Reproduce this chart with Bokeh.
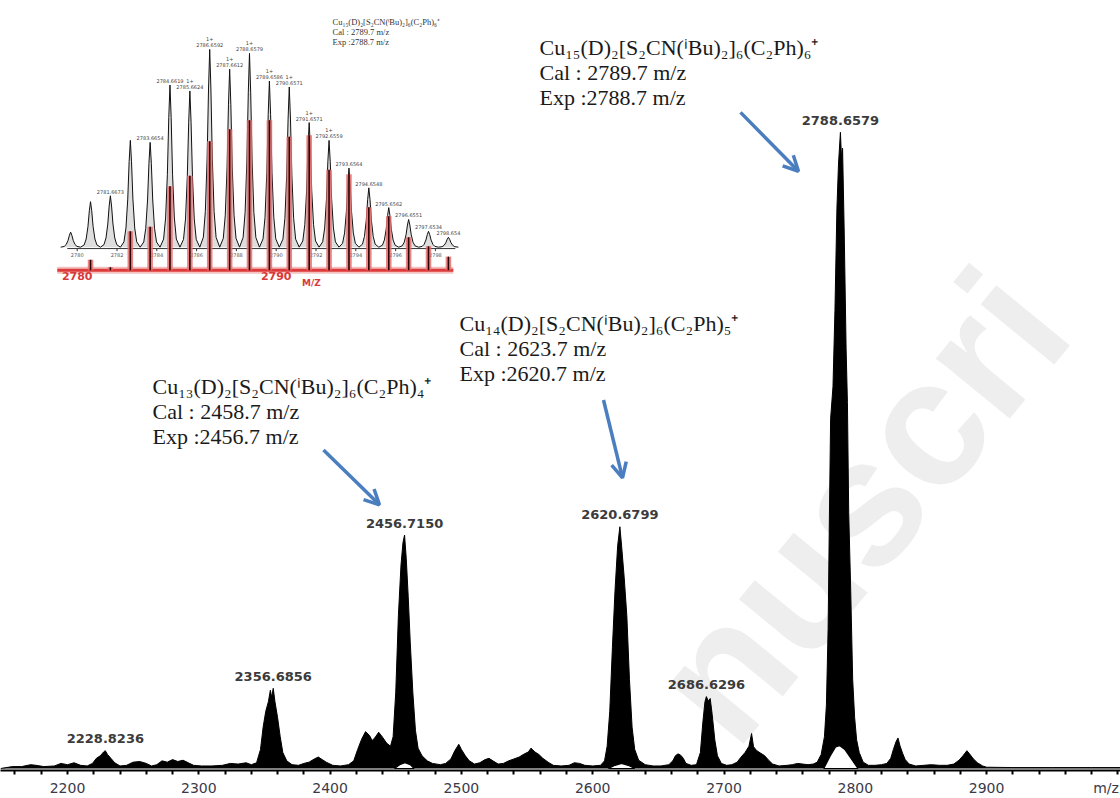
import math
from bokeh.plotting import figure
from bokeh.models import Range1d, FixedTicker, Arrow, OpenHead, Label
from bokeh.core.properties import value
from bokeh.embed import file_html
from bokeh.resources import INLINE

# ---------------- main spectrum (m/z, relative intensity %) ----------------
mz = [2149, 2158, 2165, 2172, 2176, 2182, 2190, 2195, 2200, 2205, 2210, 2215, 2219, 2222, 2225,
      2227.5, 2228.8, 2230.5, 2233, 2236, 2240, 2245, 2250, 2255, 2260, 2264, 2268, 2272,
      2276, 2280, 2284, 2288, 2292, 2296, 2302, 2310, 2318, 2324, 2330, 2336, 2340, 2344,
      2347, 2349, 2351, 2353, 2354.5, 2355.5, 2356.7, 2358, 2360, 2362, 2364, 2367, 2371,
      2376, 2380, 2384, 2388, 2391, 2394, 2397, 2402, 2408, 2414, 2418, 2421, 2424, 2427,
      2430, 2432, 2434, 2437, 2440, 2443, 2446, 2448, 2450, 2452, 2454, 2455.5, 2456.7,
      2458, 2459.5, 2461, 2463, 2465, 2467, 2470, 2474, 2478, 2484, 2488, 2492, 2495, 2498,
      2500, 2503, 2506, 2510, 2514, 2518, 2521, 2524, 2528, 2532, 2536, 2540, 2544, 2548,
      2551, 2553, 2556, 2559, 2562, 2566, 2570, 2576, 2582, 2586, 2590, 2594, 2600, 2606,
      2609, 2611, 2613, 2615, 2617, 2619, 2620.7, 2622, 2624, 2626, 2628, 2630, 2632, 2635,
      2640, 2646, 2652, 2658, 2661, 2663, 2665, 2667, 2669, 2671, 2675, 2679, 2682, 2684,
      2685.5, 2686.6, 2688, 2689.5, 2691, 2693, 2695, 2698, 2702, 2706, 2710, 2713, 2716,
      2719, 2721, 2722.5, 2725, 2728, 2731, 2734, 2737, 2742, 2748, 2752, 2756, 2760, 2764,
      2768, 2771, 2774, 2776.5, 2778, 2779.3, 2780.3, 2781.2, 2783, 2784.5, 2786, 2787.2,
      2788.66, 2789.5, 2790.3, 2791.5, 2793, 2794, 2795, 2796.5, 2798, 2799.5, 2801, 2803,
      2806, 2810, 2815, 2820, 2824, 2827, 2829, 2831, 2832.5, 2834, 2836, 2838, 2841, 2846,
      2852, 2858, 2864, 2870, 2875, 2879, 2882, 2885, 2887, 2890, 2893, 2897, 2900, 2920,
      2950, 2980, 3002]
intensity = [0.0, 0.3, 0.3, 0.6, 0.5, 0.3, 0.4, 0.8, 0.6, 0.9, 0.5, 0.4, 0.8, 1.6, 2.0,
             2.6, 2.8, 2.2, 1.6, 0.9, 0.4, 0.5, 1.0, 1.1, 0.8, 0.4, 0.6, 1.2,
             1.0, 1.4, 1.1, 1.3, 0.9, 0.5, 0.4, 0.4, 0.5, 0.8, 0.7, 0.9, 0.6, 0.9,
             3.0, 6.5, 9.0, 10.5, 12.3, 11.2, 12.6, 10.5, 8.0, 5.0, 2.5, 1.2, 0.6,
             0.5, 0.8, 1.0, 1.5, 1.8, 1.4, 1.0, 0.5, 0.4, 0.6, 1.2, 3.0, 4.6, 5.8,
             5.2, 4.4, 4.8, 5.7, 4.9, 4.0, 3.5, 5.0, 12.0, 24.0, 32.0, 35.5, 36.7,
             33.0, 27.0, 20.0, 12.0, 6.0, 3.2, 2.0, 1.2, 0.8, 0.6, 0.8, 1.5, 2.8, 3.8,
             3.0, 2.0, 1.2, 0.7, 0.9, 1.4, 1.6, 1.2, 0.7, 0.8, 1.2, 1.5, 1.8, 2.3,
             2.6, 3.2, 2.6, 2.2, 1.6, 1.0, 0.5, 0.4, 0.5, 0.9, 0.8, 0.5, 0.4, 0.5,
             1.2, 3.5, 9.0, 19.0, 28.0, 35.0, 38.0, 35.0, 30.0, 24.0, 14.0, 6.5, 3.0, 1.3,
             0.6, 0.4, 0.4, 0.6, 1.2, 2.0, 2.3, 2.1, 1.6, 0.8, 0.5, 0.6, 2.5, 7.5,
             10.5, 11.3, 10.6, 11.0, 8.5, 4.5, 2.0, 0.8, 0.5, 0.6, 1.0, 1.8, 2.5,
             3.5, 5.5, 3.4, 2.8, 2.4, 2.0, 1.3, 0.7, 0.4, 0.5, 0.6, 0.8, 0.7, 0.6,
             0.7, 1.0, 2.2, 5.0, 10.0, 22.0, 40.0, 55.0, 60.0, 72.0, 88.0, 95.0,
             100.0, 96.0, 97.5, 85.0, 66.0, 57.5, 40.0, 28.0, 14.0, 8.0, 4.5, 2.5,
             1.0, 0.5, 0.5, 0.6, 0.8, 1.6, 3.0, 4.2, 4.8, 3.6, 2.4, 1.4, 0.7, 0.4,
             0.5, 0.6, 0.5, 0.5, 0.7, 1.3, 2.0, 2.8, 2.3, 1.5, 0.9, 0.4, 0.2, 0.15,
             0.15, 0.15, 0.15]

# smoothed profile humps under the three main peaks (white inside the stick envelope)
hump_mz = [[2449, 2453, 2457, 2461, 2464],
           [2612, 2617, 2622, 2627, 2632],
           [2776, 2781, 2785, 2788, 2792, 2797, 2802]]
hump_int = [[0, 0.6, 0.9, 0.6, 0],
            [0, 0.5, 0.8, 0.5, 0],
            [0, 2.0, 3.4, 3.6, 3.0, 1.5, 0]]

# peak labels
label_mz = [2228.8236, 2356.6856, 2456.7150, 2620.6799, 2686.6296, 2788.6579]
label_int = [2.8, 12.6, 36.7, 38.0, 11.3, 100.0]
label_txt = ["2228.8236", "2356.6856", "2456.7150", "2620.6799", "2686.6296", "2788.6579"]

x_ticks = [2200, 2300, 2400, 2500, 2600, 2700, 2800, 2900]
x_minor = list(range(2160, 3001, 20))
axis_end_tick = 2991
axis_end_label = "m/z"

# annotations
ann_lines = [
    ["Cu₁₅(D)₂[S₂CN(ⁱBu)₂]₆(C₂Ph)₆⁺", "Cal : 2789.7 m/z", "Exp :2788.7 m/z"],
    ["Cu₁₄(D)₂[S₂CN(ⁱBu)₂]₆(C₂Ph)₅⁺", "Cal : 2623.7 m/z", "Exp :2620.7 m/z"],
    ["Cu₁₃(D)₂[S₂CN(ⁱBu)₂]₆(C₂Ph)₄⁺", "Cal : 2458.7 m/z", "Exp :2456.7 m/z"],
]
watermark = "nuscri"

# ---------------- inset: isotope pattern ----------------
iso_mz = [2779.67, 2780.67, 2781.6673, 2782.67, 2783.6654, 2784.6619, 2785.6624, 2786.6592,
          2787.6612, 2788.6579, 2789.6586, 2790.6571, 2791.6571, 2792.6559, 2793.6564,
          2794.6548, 2795.6562, 2796.6551, 2797.6534, 2798.654]
iso_exp = [7.6, 23, 26, 54, 53, 82, 79, 100, 90, 98, 84, 81, 63, 54, 40, 30, 20, 14, 8, 5]
iso_labels = ["", "", "2781.6673", "", "2783.6654", "2784.6619", "2785.6624", "2786.6592",
              "2787.6612", "2788.6579", "2789.6586", "2790.6571", "2791.6571", "2792.6559",
              "2793.6564", "2794.6548", "2795.6562", "2796.6551", "2797.6534", "2798.654"]
iso_charge = ["", "", "", "", "", "", "1+", "1+", "1+", "1+", "1+", "1+", "1+", "1+",
              "", "", "", "", "", ""]
sim_mz = iso_mz[1:]
sim_int = [7, 2, 26, 29, 56, 63, 86, 94, 100, 100, 89, 90, 67, 64, 42, 36, 22, 16, 9]
inset_ticks = [2780, 2782, 2784, 2786, 2788, 2790, 2792, 2794, 2796, 2798]
inset_header = ["Cu₁₅(D)₂[S₂CN(ⁱBu)₂]₆(C₂Ph)₆⁺", "Cal : 2789.7 m/z", "Exp :2788.7 m/z"]

# ---------------- layout constants ----------------
W, H = 1120, 798
FL, FR, FT, FB = 0, 1120, 0, 771          # frame box in page pixels
X0, X1 = 2200 - 67 / 1.313, 2200 + 1053 / 1.313
Y0, Y1 = -2 / 6.37, 769 / 6.37
PXX = (FR - FL) / (X1 - X0)
PXY = (FB - FT) / (Y1 - Y0)


def px2x(px):
    return X0 + (px - FL) / PXX


def py2y(py):
    return Y0 + (FB - py) / PXY


p = figure(width=W, height=H, output_backend="svg", toolbar_location=None,
           x_range=Range1d(X0, X1), y_range=Range1d(Y0, Y1), y_axis_location=None,
           min_border_left=0, min_border_right=0, min_border_top=0,
           min_border_bottom=H - FB)
p.grid.visible = False
p.outline_line_color = None
p.background_fill_color = "white"
p.border_fill_color = "white"

ax = p.xaxis[0]
ax.ticker = FixedTicker(ticks=x_ticks + [axis_end_tick], minor_ticks=x_minor)
ax.major_label_overrides = {axis_end_tick: axis_end_label}
ax.axis_line_width = 2
ax.axis_line_color = "black"
ax.major_tick_line_color = None
ax.major_tick_out = 5
ax.major_tick_in = 0
ax.minor_tick_line_width = 2
ax.minor_tick_out = 4
ax.minor_tick_in = 0
ax.major_label_standoff = 4
ax.major_label_text_font = "DejaVu Sans"
ax.major_label_text_font_size = "14px"
ax.major_label_text_color = "#3a3a4a"

# watermark (very light, underneath everything, kept inside the picture)
wm_ang = math.radians(50.7)
p.text(x=[px2x(858)], y=[py2y(505)], text=[watermark], angle=wm_ang,
       text_font=value("Liberation Sans"), text_font_size="180px", text_font_style="bold",
       text_color="#eeeeee", text_align="center", text_baseline="middle")

# spectrum
p.varea(x=mz, y1=[0] * len(mz), y2=intensity, fill_color="black")
p.line(x=mz, y=intensity, line_color="black", line_width=1)
p.patches(xs=hump_mz, ys=hump_int, fill_color="white", line_color="black", line_width=1.2)

# peak labels
p.text(x=label_mz, y=label_int, text=label_txt, text_font=value("DejaVu Sans"),
       text_font_size="13px", text_font_style="bold", text_color="#3b3b3b",
       text_align="center", text_baseline="middle", y_offset=-12)

# annotations
ann_pos = [(539, 47), (459, 323), (152, 387)]
for (ax0, ay0), lines in zip(ann_pos, ann_lines):
    for k, t in enumerate(lines):
        p.add_layout(Label(x=px2x(ax0), y=py2y(ay0 + 25 * k), text=t,
                           text_font="Liberation Serif", text_font_size="22px",
                           text_color="#1a1a1a", text_align="left",
                           text_baseline="alphabetic"))

# arrows
arrow_px = [((740, 112), (798, 171)), ((603, 400), (622, 478)), ((323, 450), (379, 505))]
for (sx, sy), (ex, ey) in arrow_px:
    p.add_layout(Arrow(end=OpenHead(size=15, line_color="#4a7ebf", line_width=3.5),
                       x_start=px2x(sx), y_start=py2y(sy), x_end=px2x(ex), y_end=py2y(ey),
                       line_color="#4a7ebf", line_width=3.5))

# ---------------- inset with its own ranges ----------------
IX0 = 2788 + (FL - 235.9) / 19.9
IX1 = 2788 + (FR - 235.9) / 19.9
p.extra_x_ranges = {"ix": Range1d(IX0, IX1)}
p.extra_y_ranges = {"ig": Range1d(-(FB - 247) / 1.98, (247 - FT) / 1.98),
                    "ir": Range1d(-(FB - 270) / 1.5, (270 - FT) / 1.5)}

# experimental profile built from centroid peaks with a fixed peak shape
shape_dx = [-0.5, -0.32, -0.22, -0.13, -0.06, 0, 0.06, 0.13, 0.22, 0.32]
shape_f = [0.0, 0.05, 0.18, 0.45, 0.8, 1.0, 0.8, 0.45, 0.18, 0.05]
gx, gy = [], []
for c, h in zip(iso_mz, iso_exp):
    for dx, f in zip(shape_dx, shape_f):
        gx.append(c + dx)
        gy.append(h * f)
gx.append(iso_mz[-1] + 0.5)
gy.append(0.0)
p.varea(x=gx, y1=[0] * len(gx), y2=gy, fill_color="#dedede",
        x_range_name="ix", y_range_name="ig")
p.line(x=gx, y=gy, line_color="#111111", line_width=1, x_range_name="ix", y_range_name="ig")
# gray axis
p.segment(x0=[2779.5], y0=[-0.7], x1=[2799.0], y1=[-0.7], line_color="#333333", line_width=1,
          x_range_name="ix", y_range_name="ig")
p.segment(x0=inset_ticks, y0=[-0.7] * len(inset_ticks), x1=inset_ticks,
          y1=[-2.0] * len(inset_ticks), line_color="#333333", line_width=1,
          x_range_name="ix", y_range_name="ig")
p.text(x=inset_ticks, y=[-4.2] * len(inset_ticks), text=[str(t) for t in inset_ticks],
       text_font=value("DejaVu Sans"), text_font_size="5px", text_color="#555555",
       text_align="center", text_baseline="middle", x_range_name="ix", y_range_name="ig")
p.text(x=iso_mz, y=iso_exp, text=iso_labels, text_font=value("DejaVu Sans"),
       text_font_size="5px", text_color="#444444", text_align="center",
       text_baseline="bottom", y_offset=-2, x_range_name="ix", y_range_name="ig")
p.text(x=iso_mz, y=iso_exp, text=iso_charge, text_font=value("DejaVu Sans"),
       text_font_size="5px", text_color="#444444", text_align="center",
       text_baseline="bottom", y_offset=-8, x_range_name="ix", y_range_name="ig")

# simulated pattern (red)
p.segment(x0=[2779.0], y0=[0], x1=[2798.9], y1=[0], line_color="#f5c0c0", line_width=7,
          x_range_name="ix", y_range_name="ir")
p.segment(x0=[2779.0], y0=[0], x1=[2798.9], y1=[0], line_color="#dd3b3b", line_width=3,
          x_range_name="ix", y_range_name="ir")
p.vbar(x=sim_mz, top=sim_int, bottom=0, width=0.28, fill_color="#e86f6f", fill_alpha=0.85,
       line_color=None, x_range_name="ix", y_range_name="ir")
p.segment(x0=sim_mz, y0=[0] * len(sim_mz), x1=sim_mz, y1=sim_int, line_color="#2a0505",
          line_width=1.6, x_range_name="ix", y_range_name="ir")
red_lbl_x = [2780, 2790]
p.text(x=red_lbl_x, y=[-4] * 2, text=[str(v) for v in red_lbl_x],
       text_font=value("DejaVu Sans"), text_font_size="11px", text_font_style="bold",
       text_color="#d83a3a", text_align="center", text_baseline="middle",
       x_range_name="ix", y_range_name="ir")
p.text(x=[2791.77], y=[-8.7], text=["M/Z"], text_font=value("DejaVu Sans"),
       text_font_size="9px", text_font_style="bold", text_color="#d83a3a",
       text_align="center", text_baseline="middle", x_range_name="ix", y_range_name="ir")

# inset header
for k, t in enumerate(inset_header):
    p.add_layout(Label(x=px2x(332), y=py2y(21.5 + 10 * k), text=t,
                       text_font="Liberation Serif", text_font_size="8.5px",
                       text_color="#333333", text_align="left", text_baseline="alphabetic"))

open("out.html", "w").write(file_html(p, INLINE))
